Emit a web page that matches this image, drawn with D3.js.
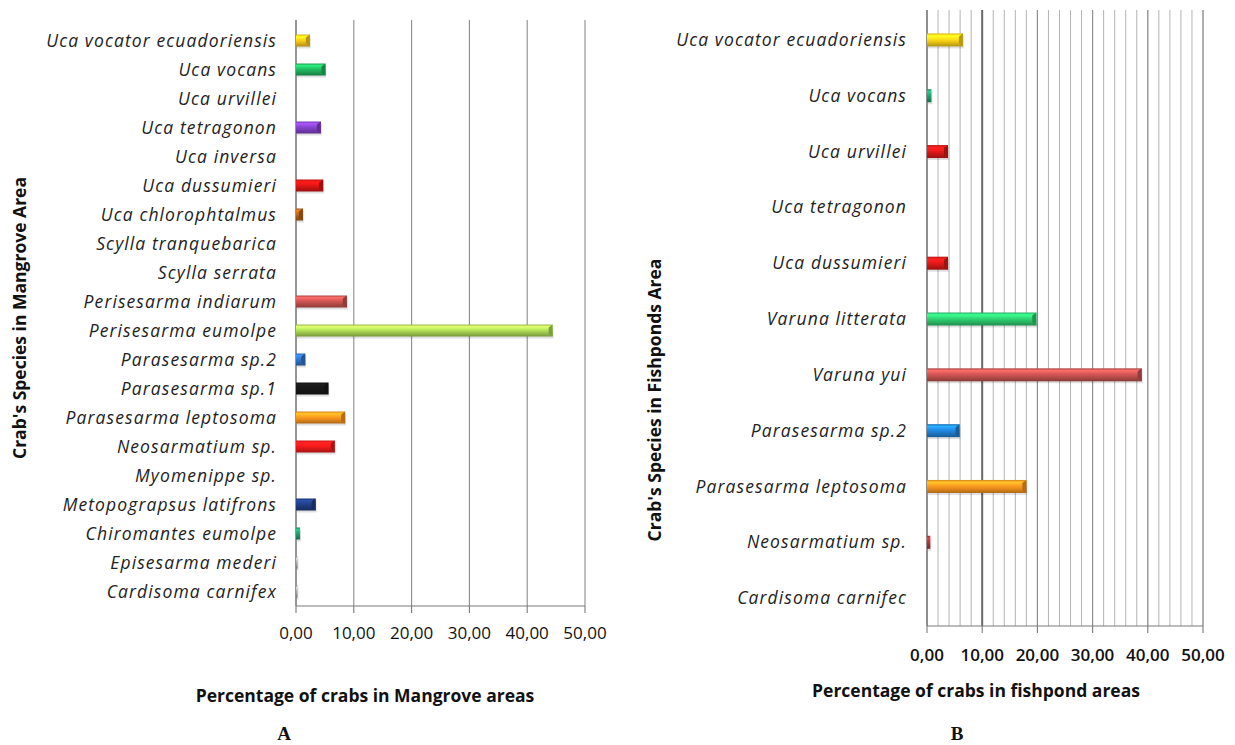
<!DOCTYPE html>
<html>
<head>
<meta charset="utf-8">
<script src="https://cdn.jsdelivr.net/npm/d3@7/dist/d3.min.js"></script>
<style>
  html, body { margin: 0; padding: 0; background: #fff; }
  svg { display: block; }
  .cat { font-family: "Open Sans", sans-serif; font-style: italic; font-size: 17.5px; fill: #222; letter-spacing: 1.1px; }
  .tick { font-family: "Open Sans", sans-serif; font-size: 17px; fill: #111; }
  .title { font-family: "Open Sans", sans-serif; font-weight: bold; font-size: 17.5px; fill: #111; }
  .panel { font-family: "Liberation Serif", serif; font-weight: bold; font-size: 19px; fill: #111; }
</style>
</head>
<body>
<svg id="chart" width="1235" height="745"></svg>
<script>
// ---------- DATA ----------
const leftCategories = [
  "Uca vocator ecuadoriensis", "Uca vocans", "Uca urvillei", "Uca tetragonon", "Uca inversa",
  "Uca dussumieri", "Uca chlorophtalmus", "Scylla tranquebarica", "Scylla serrata",
  "Perisesarma indiarum", "Perisesarma eumolpe", "Parasesarma sp.2", "Parasesarma sp.1",
  "Parasesarma leptosoma", "Neosarmatium sp.", "Myomenippe sp.", "Metopograpsus latifrons",
  "Chiromantes eumolpe", "Episesarma mederi", "Cardisoma carnifex"
];
const leftValues = [2.4, 5.1, 0, 4.3, 0, 4.7, 1.2, 0, 0, 8.8, 44.4, 1.6, 5.6, 8.5, 6.7, 0, 3.4, 0.7, 0.2, 0.2];
const leftColors = [
  "#f2c318", "#1fae5c", "#c0c0c0", "#7e3fc0", "#c0c0c0", "#d41414", "#b0601a", "#c0c0c0", "#c0c0c0",
  "#c0504d", "#a6d152", "#2f6fbf", "#151515", "#f0901e", "#e51a1a", "#c0c0c0", "#1f3b7e",
  "#1b9a6a", "#a0a0a0", "#a0a0a0"
];

const rightCategories = [
  "Uca vocator ecuadoriensis", "Uca vocans", "Uca urvillei", "Uca tetragonon", "Uca dussumieri",
  "Varuna litterata", "Varuna yui", "Parasesarma sp.2", "Parasesarma leptosoma",
  "Neosarmatium sp.", "Cardisoma carnifec"
];
const rightValues = [6.5, 0.8, 3.8, 0, 3.8, 19.8, 38.9, 5.9, 18.0, 0.6, 0];
const rightColors = [
  "#f4cb16", "#1b9a6a", "#d41818", "#c0c0c0", "#d41818", "#2cc46c", "#c0504d",
  "#1e7fd0", "#f0901e", "#b03030", "#c0c0c0"
];

const xTicks = [0, 10, 20, 30, 40, 50];
const xTickLabels = ["0,00", "10,00", "20,00", "30,00", "40,00", "50,00"];
const minorTicks = d3.range(0, 51, 2);

const leftYTitle = "Crab's Species in Mangrove Area";
const rightYTitle = "Crab's Species in Fishponds Area";
const leftXTitle = "Percentage of crabs in Mangrove areas";
const rightXTitle = "Percentage of crabs in fishpond areas";

// ---------- DRAW ----------
const svg = d3.select("#chart");
const defs = svg.append("defs");

function gradFor(id, color) {
  const c = d3.color(color);
  const g = defs.append("linearGradient").attr("id", id)
    .attr("x1", 0).attr("y1", 0).attr("x2", 0).attr("y2", 1);
  g.append("stop").attr("offset", "0%").attr("stop-color", c.darker(0.3));
  g.append("stop").attr("offset", "18%").attr("stop-color", c.brighter(0.9));
  g.append("stop").attr("offset", "38%").attr("stop-color", c.brighter(0.4));
  g.append("stop").attr("offset", "60%").attr("stop-color", c);
  g.append("stop").attr("offset", "100%").attr("stop-color", c.darker(0.9));
  return `url(#${id})`;
}

function drawPanel(opt) {
  const g = svg.append("g");
  const x = d3.scaleLinear().domain([0, 50]).range(opt.xRange);
  const y = d3.scaleBand().domain(opt.categories).range(opt.yRange);
  const [top, bottom] = [opt.gridTop, opt.yRange[1]];

  if (opt.minor) {
    g.selectAll(".minor").data(minorTicks).join("line")
      .attr("x1", d => x(d)).attr("x2", d => x(d))
      .attr("y1", top).attr("y2", bottom)
      .attr("stroke", "#b4b4b4").attr("stroke-width", 1);
  }
  g.selectAll(".major").data(xTicks).join("line")
    .attr("x1", d => x(d)).attr("x2", d => x(d))
    .attr("y1", top).attr("y2", bottom)
    .attr("stroke", d => (opt.minor && d === 10) ? "#6a6a6a" : "#8c8c8c")
    .attr("stroke-width", d => (opt.minor && d === 10) ? 2 : 1.1);

  g.append("line").attr("x1", x(0)).attr("x2", x(0)).attr("y1", top).attr("y2", bottom)
    .attr("stroke", "#7a7a7a").attr("stroke-width", 1.2);
  g.append("line").attr("x1", x(0)).attr("x2", x(50)).attr("y1", bottom).attr("y2", bottom)
    .attr("stroke", "#7a7a7a").attr("stroke-width", 1.2);
  g.selectAll(".tk").data(xTicks).join("line")
    .attr("x1", d => x(d)).attr("x2", d => x(d))
    .attr("y1", bottom).attr("y2", bottom + 7)
    .attr("stroke", "#7a7a7a").attr("stroke-width", 1.1);

  const bh = opt.barH;
  const data = opt.categories.map((c, i) => ({ c, v: opt.values[i], col: opt.colors[i], i }));
  const bars = g.selectAll(".bar").data(data.filter(d => d.v > 0)).join("g");
  bars.append("rect")
    .attr("x", d => x(0) + 1).attr("y", d => y(d.c) + y.bandwidth() / 2 - bh / 2 + 2)
    .attr("width", d => Math.max(1.5, x(d.v) - x(0)))
    .attr("height", bh)
    .attr("fill", "#000").attr("opacity", 0.12);
  bars.append("rect")
    .attr("x", x(0)).attr("y", d => y(d.c) + y.bandwidth() / 2 - bh / 2)
    .attr("width", d => Math.max(1.5, x(d.v) - x(0)))
    .attr("height", bh)
    .attr("fill", d => gradFor(opt.id + "g" + d.i, d.col));
  bars.filter(d => x(d.v) - x(0) > 6).append("path")
    .attr("d", d => {
      const x1 = x(d.v), y0 = y(d.c) + y.bandwidth() / 2 - bh / 2;
      return `M${x1 - 4},${y0 + 3} L${x1},${y0} L${x1},${y0 + bh} L${x1 - 4},${y0 + bh - 3} Z`;
    })
    .attr("fill", d => d3.color(d.col).darker(0.8));

  g.selectAll(".cat").data(opt.categories).join("text")
    .attr("class", "cat")
    .attr("x", opt.labelX)
    .attr("y", d => y(d) + y.bandwidth() / 2)
    .attr("dy", "0.35em")
    .attr("text-anchor", "end")
    .text(d => d);

  g.selectAll(".tl").data(xTicks).join("text")
    .attr("class", "tick")
    .attr("x", d => x(d))
    .attr("y", opt.tickLabelY)
    .attr("text-anchor", "middle")
    .style("font-weight", opt.boldTicks ? "600" : "normal")
    .text((d, i) => xTickLabels[i]);

  g.append("text").attr("class", "title")
    .attr("transform", `translate(${opt.yTitleX},${opt.yTitleY}) rotate(-90)`)
    .attr("text-anchor", "middle").text(opt.yTitle);
  g.append("text").attr("class", "title")
    .attr("x", opt.xTitleX).attr("y", opt.xTitleY)
    .attr("text-anchor", "middle").text(opt.xTitle);
  g.append("text").attr("class", "panel")
    .attr("x", opt.panelX).attr("y", 740)
    .attr("text-anchor", "middle").text(opt.panel);
}

drawPanel({
  id: "L", categories: leftCategories, values: leftValues, colors: leftColors,
  xRange: [296, 585], yRange: [26, 606], gridTop: 20, barH: 12, minor: false,
  labelX: 277, tickLabelY: 639, boldTicks: false,
  yTitle: leftYTitle, yTitleX: 26, yTitleY: 318,
  xTitle: leftXTitle, xTitleX: 365, xTitleY: 702,
  panel: "A", panelX: 284
});

drawPanel({
  id: "R", categories: rightCategories, values: rightValues, colors: rightColors,
  xRange: [927, 1203], yRange: [12, 626], gridTop: 10, barH: 13, minor: true,
  labelX: 907, tickLabelY: 661, boldTicks: true,
  yTitle: rightYTitle, yTitleX: 661, yTitleY: 400,
  xTitle: rightXTitle, xTitleX: 976, xTitleY: 697,
  panel: "B", panelX: 957
});
</script>
</body>
</html>
